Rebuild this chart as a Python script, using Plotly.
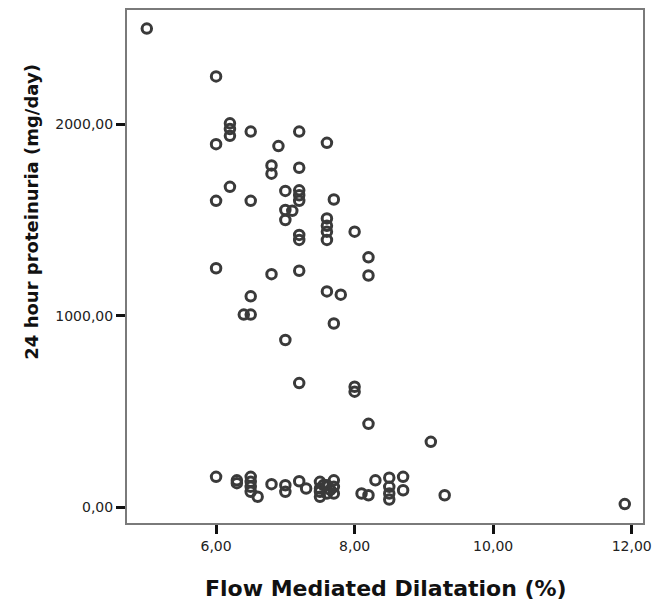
import plotly.graph_objects as go

# Flow Mediated Dilatation (%)
fmd = [5.0, 6.0, 6.2, 6.2, 6.2, 6.5, 7.2, 6.0, 6.9, 7.6,
       6.8, 6.8, 7.2, 6.2, 6.0, 6.5, 7.0, 7.2, 7.2, 7.2,
       7.7, 7.0, 7.0, 7.1, 7.2, 7.2, 7.6, 7.6, 7.6, 7.6,
       8.0, 8.2, 8.2, 6.0, 6.8, 7.2, 6.5, 6.4, 6.5, 7.0,
       7.6, 7.8, 7.7, 7.2, 8.0, 8.0, 8.2, 9.1, 9.3, 11.9,
       6.0, 6.3, 6.3, 6.5, 6.5, 6.5, 6.5, 6.6, 6.8, 7.0,
       7.0, 7.2, 7.3, 7.5, 7.5, 7.5, 7.5, 7.55, 7.65, 7.6,
       7.6, 7.7, 7.7, 7.7, 8.1, 8.2, 8.3, 8.5, 8.5, 8.5,
       8.5, 8.7, 8.7]

# 24 hour proteinuria (mg/day)
proteinuria = [2500, 2250, 2005, 1975, 1940, 1962, 1962, 1896, 1886, 1903,
               1785, 1742, 1773, 1673, 1600, 1600, 1652, 1655, 1629, 1600,
               1607, 1552, 1500, 1548, 1422, 1396, 1508, 1470, 1439, 1396,
               1439, 1305, 1210, 1248, 1217, 1235, 1101, 1006, 1006, 873,
               1127, 1110, 959, 648, 629, 603, 435, 341, 62, 16,
               158, 140, 125, 158, 132, 106, 80, 54, 120, 114,
               80, 135, 97, 132, 97, 54, 80, 115, 90, 114,
               71, 140, 106, 71, 71, 62, 140, 154, 106, 71,
               40, 158, 88]

x_tickvals = [6, 8, 10, 12]
x_ticktext = ["6,00", "8,00", "10,00", "12,00"]
y_tickvals = [0, 1000, 2000]
y_ticktext = ["0,00", "1000,00", "2000,00"]

x_title = "Flow Mediated Dilatation (%)"
y_title = "24 hour proteinuria (mg/day)"

fig = go.Figure()
fig.add_trace(go.Scatter(
    x=fmd, y=proteinuria, mode="markers",
    marker=dict(symbol="circle-open", size=9.5, color="#3a3a3a",
                line=dict(width=3, color="#3a3a3a")),
    showlegend=False, hoverinfo="x+y",
))

axis_common = dict(
    showgrid=False, zeroline=False,
    showline=True, linecolor="#7a7a7a", linewidth=2, mirror=True,
    ticks="outside", ticklen=9, tickwidth=2.5, tickcolor="#111111",
    tickfont=dict(family="DejaVu Sans", size=14, color="#222222"),
)

fig.update_xaxes(range=[4.714, 12.163], tickvals=x_tickvals, ticktext=x_ticktext,
                 **axis_common)
fig.update_yaxes(range=[-83, 2597], tickvals=y_tickvals, ticktext=y_ticktext,
                 **axis_common)

fig.add_annotation(text=x_title, xref="paper", yref="paper", x=0.502, y=-0.128,
                   showarrow=False, xanchor="center", yanchor="middle",
                   font=dict(family="DejaVu Sans", size=22, color="#111111",
                             weight="bold"))
fig.add_annotation(text=y_title, xref="paper", yref="paper", x=-0.184, y=0.607,
                   showarrow=False, xanchor="center", yanchor="middle", textangle=-90,
                   font=dict(family="DejaVu Sans", size=18, color="#111111",
                             weight="bold"))

fig.update_layout(
    width=664, height=608,
    margin=dict(l=119, r=29, t=0, b=93),
    paper_bgcolor="white", plot_bgcolor="white",
)

fig.write_html("out.html")
